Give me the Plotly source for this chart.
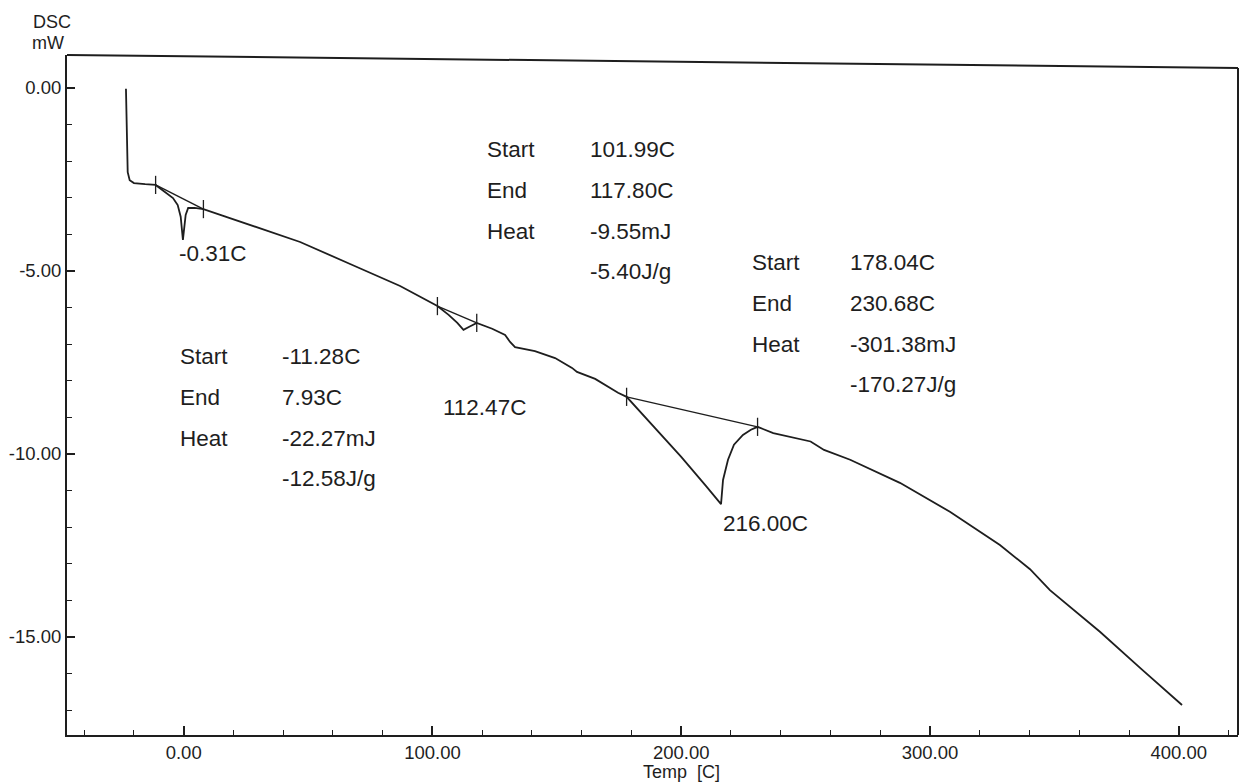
import plotly.graph_objects as go

# DSC heat-flow trace (temperature in C, heat flow in mW)
temp_c = [-23.2, -22.9, -22.5, -21.7, -20.0, -15.5, -11.28, -8.2, -4.3, -2.4, -1.2,
          -0.31, 0.8, 1.8, 4.4, 7.93, 26.7, 46.8, 66.9, 87.0, 101.99, 106.5, 110.0,
          112.47, 115.0, 117.80, 124.0, 129.2, 131.2, 133.2, 141.2, 149.3, 156.1,
          158.1, 165.4, 174.6, 178.04, 190.0, 200.0, 210.0, 216.00, 216.8, 218.8,
          221.2, 224.8, 228.0, 230.68, 237.0, 249.4, 252.0, 257.4, 267.9, 287.9,
          308.0, 328.1, 340.2, 348.2, 368.3, 385.0, 401.3]
heat_flow_mw = [-0.02, -1.40, -2.30, -2.52, -2.60, -2.63, -2.65, -2.81, -3.01, -3.20, -3.52,
                -4.15, -3.47, -3.28, -3.28, -3.31, -3.74, -4.21, -4.81, -5.41, -5.96, -6.20, -6.42,
                -6.61, -6.52, -6.42, -6.58, -6.75, -6.94, -7.08, -7.19, -7.38, -7.65,
                -7.76, -7.95, -8.33, -8.44, -9.33, -10.08, -10.88, -11.37, -10.71, -10.16,
                -9.75, -9.48, -9.34, -9.26, -9.43, -9.62, -9.66, -9.89, -10.16, -10.79,
                -11.58, -12.49, -13.15, -13.72, -14.86, -15.88, -16.86]

# Integrated events: baseline limits and peak temperatures
event_start_c = [-11.28, 101.99, 178.04]
event_end_c = [7.93, 117.80, 230.68]
event_start_mw = [-2.65, -5.96, -8.44]
event_end_mw = [-3.31, -6.42, -9.26]
peak_c = [-0.31, 112.47, 216.00]
heat_mj = [-22.27, -9.55, -301.38]
heat_jg = [-12.58, -5.40, -170.27]

# Axis ticks
x_tick_vals = [0, 100, 200, 300, 400]
x_tick_text = ["0.00", "100.00", "200.00", "300.00", "400.00"]
y_tick_vals = [0, -5, -10, -15]
y_tick_text = ["0.00", "-5.00", "-10.00", "-15.00"]

INK = "#1e1e1e"
FONT = "Liberation Sans, Arial, sans-serif"

fig = go.Figure()

fig.add_trace(go.Scatter(
    x=temp_c, y=heat_flow_mw, mode="lines",
    line=dict(color=INK, width=1.8), hoverinfo="skip", showlegend=False))

for xs, xe, ys, ye in zip(event_start_c, event_end_c, event_start_mw, event_end_mw):
    fig.add_trace(go.Scatter(
        x=[xs, xe], y=[ys, ye], mode="lines+markers",
        line=dict(color=INK, width=1.4),
        marker=dict(symbol="line-ns", size=13, line=dict(color=INK, width=1.3)),
        hoverinfo="skip", showlegend=False))

annotations = []


def add_text(x, y, text, size=22.5, xanchor="left", yanchor="middle", xref="x", yref="y"):
    annotations.append(dict(
        x=x, y=y, xref=xref, yref=yref, text=text, showarrow=False,
        xanchor=xanchor, yanchor=yanchor,
        font=dict(family=FONT, size=size, color=INK)))


# Peak temperature labels, just below each peak
peak_label_pos = [(-2.5, -4.51), (103.5, -8.74), (215.8, -11.89)]
for (lx, ly), p in zip(peak_label_pos, peak_c):
    add_text(lx, ly, f"{p:.2f}C")

# Start / End / Heat blocks: (label column x, value column x, first row y)
blocks = [(-2.1, 38.7, -7.35), (121.1, 162.5, -1.69), (227.7, 266.9, -4.78)]
row_step = -1.11
for (lx, vx, y0), s, e, mj, jg in zip(blocks, event_start_c, event_end_c, heat_mj, heat_jg):
    add_text(lx, y0, "Start")
    add_text(vx, y0, f"{s:.2f}C")
    add_text(lx, y0 + row_step, "End")
    add_text(vx, y0 + row_step, f"{e:.2f}C")
    add_text(lx, y0 + 2 * row_step, "Heat")
    add_text(vx, y0 + 2 * row_step, f"{mj:.2f}mJ")
    add_text(vx, y0 + 3 * row_step, f"{jg:.2f}J/g")

# Axis titles
add_text(200, -0.054, "Temp  [C]", size=18, xanchor="center", yref="paper")
add_text(-0.031, 1.0485, "DSC", size=18, xref="paper", yref="paper")
add_text(-0.032, 1.0176, "mW", size=18, xref="paper", yref="paper")

fig.update_layout(
    width=1245, height=782,
    margin=dict(l=67, r=7, t=55, b=47),
    paper_bgcolor="white", plot_bgcolor="white",
    annotations=annotations,
    shapes=[
        dict(type="line", xref="paper", yref="paper", x0=0, y0=1, x1=1, y1=0.981,
             line=dict(color=INK, width=2)),
        dict(type="line", xref="paper", yref="paper", x0=1, y0=0, x1=1, y1=0.981,
             line=dict(color=INK, width=2)),
    ],
)

fig.update_xaxes(
    range=[-46.9, 423.8], showgrid=False, zeroline=False,
    showline=True, linecolor=INK, linewidth=2,
    tickvals=x_tick_vals, ticktext=x_tick_text,
    ticks="inside", ticklen=9, tickwidth=1.5, tickcolor=INK,
    minor=dict(dtick=20, tick0=0, ticks="inside", ticklen=5, tickwidth=1.3, tickcolor=INK),
    tickfont=dict(family=FONT, size=18.5, color=INK),
)
fig.update_yaxes(
    range=[-17.68, 0.90], showgrid=False, zeroline=False,
    showline=True, linecolor=INK, linewidth=2,
    tickvals=y_tick_vals, ticktext=y_tick_text,
    ticks="inside", ticklen=8, tickwidth=1.5, tickcolor=INK,
    minor=dict(dtick=1, tick0=0, ticks="inside", ticklen=5, tickwidth=1.3, tickcolor=INK),
    tickfont=dict(family=FONT, size=18.5, color=INK),
)

fig.write_html("out.html")
